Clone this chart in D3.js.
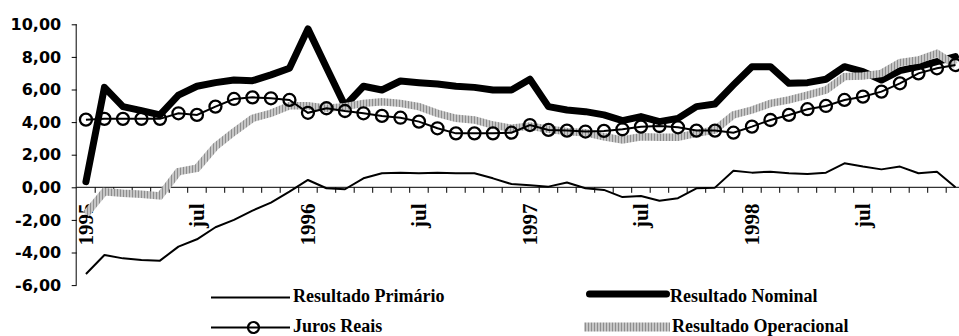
<!DOCTYPE html>
<html>
<head>
<meta charset="utf-8">
<script src="https://cdn.jsdelivr.net/npm/d3@7/dist/d3.min.js"></script>
<style>
  html, body { margin: 0; padding: 0; background: #fff; }
  svg { display: block; }
</style>
</head>
<body>
<svg id="chart" width="959" height="336"></svg>
<script>
// Monthly series, Jan 1995 – Dec 1998 (% do PIB)
const years = [1995, 1996, 1997, 1998];
const monthNames = ["jan","fev","mar","abr","mai","jun","jul","ago","set","out","nov","dez"];
const months = years.flatMap(y => monthNames.map(m => `${m}/${y}`));

const tickLabels = ["1995", "jul", "1996", "jul", "1997", "jul", "1998", "jul"];
const tickLabelMonths = ["jan/1995", "jul/1995", "jan/1996", "jul/1996", "jan/1997", "jul/1997", "jan/1998", "jul/1998"];
const yTicks = [-6, -4, -2, 0, 2, 4, 6, 8, 10];

const primario = [
  -5.32, -4.15, -4.36, -4.46, -4.50, -3.64, -3.19, -2.45, -2.00, -1.43, -0.94, -0.27,
   0.45, -0.06, -0.12,  0.55,  0.86,  0.90,  0.86,  0.90,  0.86,  0.86,  0.55,  0.20,
   0.12,  0.04,  0.29, -0.06, -0.16, -0.60, -0.53, -0.82, -0.67, -0.06, -0.02,  1.02,
   0.90,  0.96,  0.86,  0.82,  0.90,  1.47,  1.27,  1.10,  1.27,  0.86,  0.96,  0.00
];
const nominal = [
  0.35, 6.13, 4.95, 4.70, 4.44, 5.66, 6.20, 6.42, 6.58, 6.54, 6.90, 7.30,
  9.72, 7.35, 5.00, 6.20, 5.97, 6.52, 6.42, 6.34, 6.20, 6.13, 5.97, 5.97,
  6.63, 4.95, 4.74, 4.64, 4.44, 4.09, 4.34, 4.03, 4.23, 4.95, 5.11, 6.28,
  7.40, 7.40, 6.38, 6.42, 6.63, 7.40, 7.10, 6.58, 7.16, 7.40, 7.71, 8.02
];
const juros = [
  4.15, 4.20, 4.20, 4.20, 4.20, 4.54, 4.44, 4.95, 5.42, 5.52, 5.46, 5.36,
  4.57, 4.85, 4.68, 4.54, 4.38, 4.27, 4.03, 3.62, 3.31, 3.31, 3.31, 3.35,
  3.82, 3.52, 3.48, 3.42, 3.46, 3.56, 3.72, 3.76, 3.68, 3.48, 3.48, 3.35,
  3.72, 4.13, 4.44, 4.79, 4.99, 5.36, 5.56, 5.87, 6.38, 6.99, 7.30, 7.50
];
const operacional = [
  -1.65, -0.27, -0.37, -0.43, -0.53, 0.96, 1.17, 2.50, 3.40, 4.23, 4.54, 5.00,
   5.00,  4.85,  4.95,  5.15,  5.25, 5.15, 4.95, 4.54, 4.23, 4.13, 3.82, 3.62,
   3.76,  3.56,  3.42,  3.35,  3.10, 2.90, 3.10, 3.07, 3.07, 3.31, 3.52, 4.44,
   4.74,  5.15,  5.36,  5.66,  5.97, 6.79, 6.83, 6.99, 7.65, 7.81, 8.22, 7.50
];

const seriesNames = ["Resultado Primário", "Resultado Nominal", "Juros Reais", "Resultado Operacional"];

const svg = d3.select("#chart");

// Hatched grey fill used for the operational result
const defs = svg.append("defs");
const pat = defs.append("pattern")
  .attr("id", "hatch")
  .attr("patternUnits", "userSpaceOnUse")
  .attr("width", 3).attr("height", 3);
pat.append("rect").attr("width", 3).attr("height", 3).attr("fill", "#c6c6c6");
pat.append("rect").attr("width", 1).attr("height", 3).attr("fill", "#8e8e8e");

const x0 = 76.7, bandW = 18.5;
const x = d3.scaleBand().domain(months).range([x0, x0 + months.length * bandW]).padding(0);
const y = d3.scaleLinear().domain([-6, 10]).range([285.1, 24.3]);
const cx = m => x(m) + x.bandwidth() / 2;

const ptBR = d3.formatLocale({ decimal: ",", thousands: ".", grouping: [3], currency: ["R$", ""], minus: "-" });
const fmt = ptBR.format(".2f");

// Y axis
const yAxis = svg.append("g")
  .attr("transform", `translate(${x0},0)`)
  .call(d3.axisLeft(y).tickValues(yTicks).tickSize(5).tickPadding(10.5).tickFormat(fmt));
yAxis.select(".domain").attr("stroke", "#000").attr("stroke-width", 1).attr("d", `M-0.5,${y(-6)}V${y(10)}`);
yAxis.selectAll(".tick line").attr("stroke", "#000");
yAxis.selectAll(".tick text")
  .attr("fill", "#000")
  .style("font-family", "'DejaVu Sans', sans-serif")
  .style("font-weight", "bold")
  .style("font-size", "16px");

// X axis along zero, with ticks at month boundaries
const y0 = y(0);
const xAxis = svg.append("g");
xAxis.append("line")
  .attr("x1", x0).attr("x2", x.range()[1])
  .attr("y1", y0).attr("y2", y0)
  .attr("stroke", "#000").attr("stroke-width", 1);
xAxis.selectAll("line.tk")
  .data(months.slice(1))
  .join("line")
  .attr("class", "tk")
  .attr("x1", d => x(d)).attr("x2", d => x(d))
  .attr("y1", y0).attr("y2", y0 + 5.5)
  .attr("stroke", "#000").attr("stroke-width", 1);

// Series lines
const line = d3.line().x((d, i) => cx(months[i])).y(d => y(d));

svg.append("path")
  .datum(primario)
  .attr("d", line)
  .attr("fill", "none").attr("stroke", "#000").attr("stroke-width", 2)
  .attr("stroke-linejoin", "round");

svg.append("path")
  .datum(nominal)
  .attr("d", line)
  .attr("fill", "none").attr("stroke", "#000").attr("stroke-width", 7)
  .attr("stroke-linejoin", "round").attr("stroke-linecap", "round");

svg.append("path")
  .datum(operacional)
  .attr("d", line)
  .attr("fill", "none").attr("stroke", "url(#hatch)").attr("stroke-width", 7.5)
  .attr("stroke-linejoin", "miter");

svg.append("path")
  .datum(juros)
  .attr("d", line)
  .attr("fill", "none").attr("stroke", "#000").attr("stroke-width", 2);

svg.append("g")
  .selectAll("circle")
  .data(juros)
  .join("circle")
  .attr("cx", (d, i) => cx(months[i]))
  .attr("cy", d => y(d))
  .attr("r", 6)
  .attr("fill", "none").attr("stroke", "#000").attr("stroke-width", 2.3);

// Rotated category labels
xAxis.selectAll("text.lbl")
  .data(tickLabelMonths)
  .join("text")
  .attr("class", "lbl")
  .attr("transform", d => `translate(${cx(d)},203.5) rotate(-90)`)
  .attr("text-anchor", "end")
  .attr("dy", "0.34em")
  .style("font-family", "'Liberation Serif', 'Times New Roman', serif")
  .style("font-weight", "bold")
  .style("font-size", "21px")
  .text((d, i) => tickLabels[i]);

// Legend
const legend = svg.append("g")
  .style("font-family", "'Liberation Serif', 'Times New Roman', serif")
  .style("font-weight", "bold")
  .style("font-size", "18px");

const lg = [
  { name: seriesNames[0], sx: 211, ex: 290, ly: 297.5, tx: 293, ty: 302 },
  { name: seriesNames[1], sx: 589.5, ex: 666.5, ly: 294, tx: 670, ty: 302 },
  { name: seriesNames[2], sx: 211, ex: 290, ly: 327.5, tx: 293, ty: 332 },
  { name: seriesNames[3], sx: 584, ex: 670, ly: 327, tx: 672, ty: 332 }
];

legend.append("line")
  .attr("x1", lg[0].sx).attr("x2", lg[0].ex).attr("y1", lg[0].ly).attr("y2", lg[0].ly)
  .attr("stroke", "#000").attr("stroke-width", 2);
legend.append("line")
  .attr("x1", lg[1].sx).attr("x2", lg[1].ex).attr("y1", lg[1].ly).attr("y2", lg[1].ly)
  .attr("stroke", "#000").attr("stroke-width", 7).attr("stroke-linecap", "round");
legend.append("line")
  .attr("x1", lg[2].sx).attr("x2", lg[2].ex).attr("y1", lg[2].ly).attr("y2", lg[2].ly)
  .attr("stroke", "#000").attr("stroke-width", 2);
legend.append("circle")
  .attr("cx", (lg[2].sx + lg[2].ex) / 2 + 3).attr("cy", lg[2].ly).attr("r", 5.5)
  .attr("fill", "none").attr("stroke", "#000").attr("stroke-width", 2.2);
legend.append("rect")
  .attr("x", lg[3].sx).attr("y", lg[3].ly - 4.5)
  .attr("width", lg[3].ex - lg[3].sx).attr("height", 9)
  .attr("fill", "url(#hatch)");

legend.selectAll("text")
  .data(lg)
  .join("text")
  .attr("x", d => d.tx).attr("y", d => d.ty)
  .attr("fill", "#000")
  .text(d => d.name);
</script>
</body>
</html>
